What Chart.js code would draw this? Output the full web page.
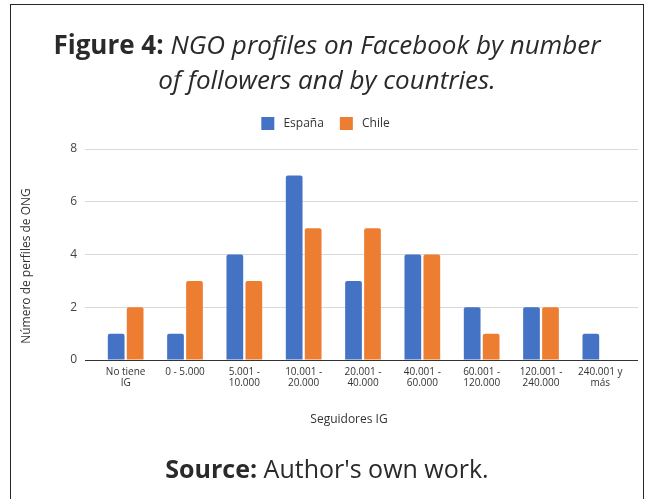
<!DOCTYPE html>
<html>
<head>
<meta charset="utf-8">
<script src="https://cdn.jsdelivr.net/npm/chart.js@4/dist/chart.umd.min.js"></script>
<style>
  html, body { margin: 0; padding: 0; background: #fff; }
  body { width: 645px; height: 499px; position: relative; overflow: hidden; font-family: "Open Sans", sans-serif; }
  #marco { position: absolute; left: 10px; top: 4px; width: 632px; height: 540px; border: 1.5px solid #262626; }
  #titulo { position: absolute; left: 11px; width: 632px; top: 27px; text-align: center;
            font-size: 26px; line-height: 35px; color: #2a2a2a; }
  #titulo i { font-weight: 400; }
  #fuente { position: absolute; left: 11px; width: 632px; top: 452px; text-align: center;
            font-size: 25px; line-height: 32px; color: #2a2a2a; }
  #grafico { position: absolute; left: 0; top: 0; }
</style>
</head>
<body>
<div id="marco"></div>
<canvas id="grafico" width="645" height="499"></canvas>
<div id="titulo"><b>Figure 4:</b> <i>NGO profiles on Facebook by number<br>of followers and by countries.</i></div>
<div id="fuente"><b>Source:</b> Author's own work.</div>

<script>
// datos
const categorias = [
    ['No tiene', 'IG'], ['0 - 5.000'], ['5.001 -', '10.000'], ['10.001 -', '20.000'],
    ['20.001 -', '40.000'], ['40.001 -', '60.000'], ['60.001 -', '120.000'],
    ['120.001 -', '240.000'], ['240.001 y', 'más']
];
const espana = [1, 1, 4, 7, 3, 4, 2, 2, 1];
const chile = [2, 3, 3, 5, 5, 4, 1, 2, 0];
const ticksY = [0, 2, 4, 6, 8];

const colorGrid = ctx => ctx.tick && ctx.tick.value === 0 ? '#333333' : '#d9d9d9';

// titulos de ejes dibujados a mano para que queden donde en el original
const titulosEjes = {
    id: 'titulosEjes',
    afterDraw(chart) {
        const c = chart.ctx;
        c.save();
        c.fillStyle = '#333';
        c.font = '12px "Open Sans"';
        c.textAlign = 'center';
        c.textBaseline = 'middle';
        c.fillText('Seguidores IG', 349, 420);
        c.translate(27, 266);
        c.rotate(-Math.PI / 2);
        c.fillText('Número de perfiles de ONG', 0, 0);
        c.restore();
    }
};

// un poco mas de espacio entre la leyenda y el area del grafico
const espacioLeyenda = {
    id: 'espacioLeyenda',
    beforeInit(chart) {
        const fit = chart.legend.fit;
        chart.legend.fit = function () {
            fit.call(this);
            this.height += 9;
        };
    }
};

new Chart(document.getElementById('grafico'), {
    type: 'bar',
    data: {
        labels: categorias,
        datasets: [{
            label: 'España',
            data: espana,
            backgroundColor: '#4472C4',
            borderRadius: { topLeft: 2, topRight: 2 },
            borderSkipped: 'bottom'
        }, {
            label: 'Chile',
            data: chile,
            backgroundColor: '#ED7D31',
            borderRadius: { topLeft: 2, topRight: 2 },
            borderSkipped: 'bottom'
        }]
    },
    options: {
        responsive: false,
        animation: false,
        categoryPercentage: 0.64,
        barPercentage: 0.88,
        layout: { padding: { left: 13, right: 7, top: 101, bottom: 89 } },
        plugins: {
            legend: {
                position: 'top',
                labels: {
                    boxWidth: 13, boxHeight: 13, padding: 16,
                    color: '#333', font: { family: 'Open Sans', size: 12 },
                    // un espacio extra entre el cuadro y el texto, como en el original
                    generateLabels: chart => Chart.defaults.plugins.legend.labels.generateLabels(chart)
                        .map(l => Object.assign(l, { text: ' ' + l.text }))
                }
            },
            tooltip: { enabled: false }
        },
        scales: {
            x: {
                grid: { display: false, drawTicks: false },
                border: { display: false },
                ticks: {
                    color: '#333', padding: 7, maxRotation: 0, autoSkip: false,
                    font: { family: 'Open Sans', size: 10, lineHeight: 1.1 }
                },
                afterFit: s => { s.height = 50; }
            },
            y: {
                min: 0, max: 8,
                afterBuildTicks: s => { s.ticks = ticksY.map(v => ({ value: v })); },
                grid: { color: colorGrid, drawTicks: true, tickLength: 11 },
                border: { display: false },
                ticks: { color: '#444', padding: 8, font: { family: 'Open Sans', size: 12 } },
                afterFit: s => { s.width = 83; }
            },
            y2: {
                position: 'right',
                min: 0, max: 8,
                afterBuildTicks: s => { s.ticks = ticksY.map(v => ({ value: v })); },
                grid: { color: colorGrid, drawOnChartArea: false, drawTicks: true, tickLength: 8 },
                border: { display: false },
                ticks: { display: false },
                afterFit: s => { s.width = 8; }
            }
        }
    },
    plugins: [titulosEjes, espacioLeyenda]
});
</script>
</body>
</html>
